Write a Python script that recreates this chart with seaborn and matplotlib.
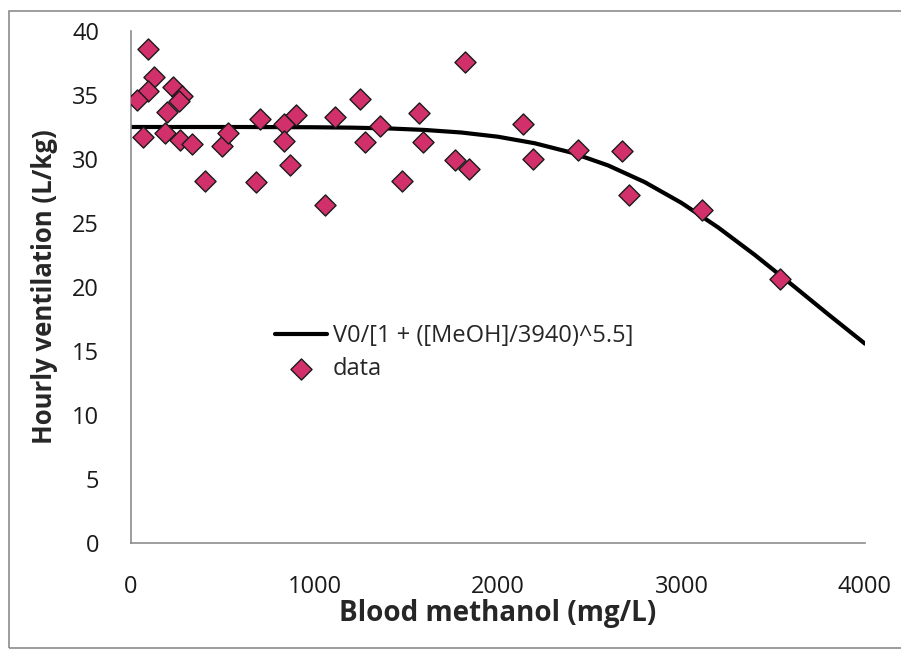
import matplotlib
matplotlib.use("Agg")
import matplotlib.pyplot as plt
import seaborn as sns
import pandas as pd
from matplotlib.patches import Rectangle

# ---- data ----
methanol = [93, 127, 94, 34, 64, 227, 276, 262, 194, 185, 267, 331, 403, 494, 530,
            703, 681, 834, 836, 899, 866, 1057, 1112, 1248, 1275, 1357, 1479, 1571,
            1594, 1820, 1766, 1844, 2138, 2189, 2434, 2674, 2714, 3113, 3537]
ventilation = [38.6, 36.4, 35.3, 34.6, 31.7, 35.6, 34.9, 34.5, 33.7, 32.0, 31.5, 31.2,
               28.3, 31.0, 32.0, 33.1, 28.2, 32.7, 31.4, 33.4, 29.5, 26.4, 33.3, 34.7,
               31.3, 32.6, 28.3, 33.6, 31.3, 37.6, 29.9, 29.2, 32.7, 30.0, 30.7, 30.6,
               27.2, 26.0, 20.6]

curve_x = [0, 200, 400, 600, 800, 1000, 1200, 1400, 1600, 1800, 2000, 2200, 2400,
           2600, 2800, 3000, 3200, 3400, 3600, 3800, 4000]
curve_y = [32.5, 32.5, 32.5, 32.5, 32.49, 32.48, 32.45, 32.39, 32.27, 32.07, 31.74,
           31.23, 30.50, 29.50, 28.19, 26.57, 24.65, 22.50, 20.20, 17.86, 15.57]

curve_label = "V0/[1 + ([MeOH]/3940)^5.5]"
data_label = "data"
x_title = "Blood methanol (mg/L)"
y_title = "Hourly ventilation (L/kg)"
x_ticks = [0, 1000, 2000, 3000, 4000]
y_ticks = [0, 5, 10, 15, 20, 25, 30, 35, 40]

df_pts = pd.DataFrame({"x": methanol, "y": ventilation})
df_curve = pd.DataFrame({"x": curve_x, "y": curve_y})

sns.set_theme(style="white")
plt.rcParams["font.family"] = ["Open Sans", "DejaVu Sans"]

fig = plt.figure(figsize=(9.01, 6.5), dpi=100)
ax = fig.add_axes([131 / 901, (650 - 543) / 650, (865 - 131) / 901, (543 - 31) / 650])

sns.lineplot(data=df_curve, x="x", y="y", ax=ax, color="black", linewidth=3.0,
             label=curve_label, sort=False, zorder=2)
sns.scatterplot(data=df_pts, x="x", y="y", ax=ax, marker="D", s=115,
                color="#D2306A", edgecolor="#1a1a1a", linewidth=1.0,
                label=data_label, zorder=3)

ax.set_xlim(0, 4000)
ax.set_ylim(0, 40)
ax.set_xticks(x_ticks)
ax.set_yticks(y_ticks)
ax.tick_params(axis="both", which="major", labelsize=17, direction="out",
               length=6, width=1, color="#8c8c8c", labelcolor="#1a1a1a")
ax.tick_params(axis="x", pad=17)
ax.tick_params(axis="y", pad=17)
for side in ["top", "right"]:
    ax.spines[side].set_visible(False)
for side in ["left", "bottom"]:
    ax.spines[side].set_color("#8c8c8c")
    ax.spines[side].set_linewidth(1.2)

ax.set_xlabel(x_title, fontsize=20, fontweight="bold", labelpad=0)
ax.set_ylabel(y_title, fontsize=18.5, fontweight="bold", labelpad=10)

leg = ax.legend(loc="upper left", bbox_to_anchor=((275 - 131) / 734, (543 - 324) / 512),
                frameon=False, fontsize=17, handlelength=2.2, handletextpad=0.25,
                labelspacing=0.4, borderaxespad=0, borderpad=0)

# outer chart frame
fig.patches.append(Rectangle((9 / 901, 2 / 650), 1.2, (648 - 11) / 650,
                             transform=fig.transFigure, fill=False,
                             edgecolor="#8c8c8c", linewidth=1.2))

fig.savefig("out.png", dpi=100, facecolor="white")
